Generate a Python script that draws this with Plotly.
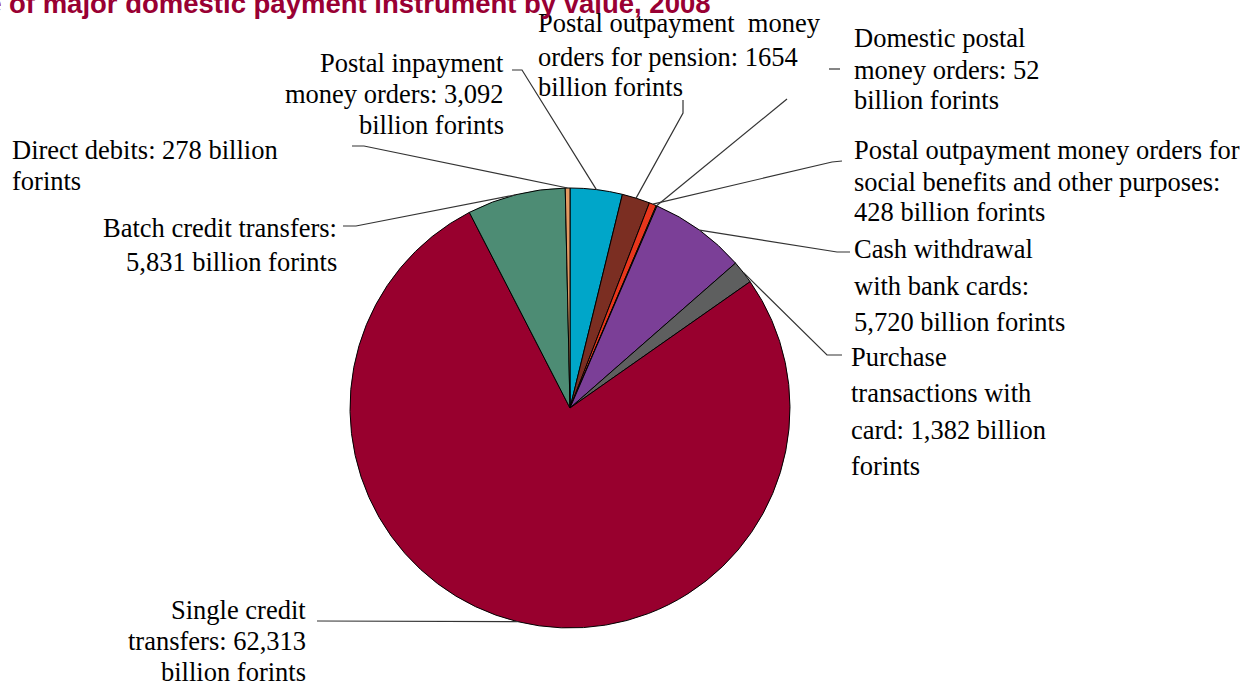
import math
import plotly.graph_objects as go

# ---------------- data ----------------
categories = [
    "Postal inpayment money orders",
    "Postal outpayment money orders for pension",
    "Postal outpayment money orders for social benefits and other purposes",
    "Domestic postal money orders",
    "Cash withdrawal with bank cards",
    "Purchase transactions with card",
    "Single credit transfers",
    "Batch credit transfers",
    "Direct debits",
]
values = [3092, 1654, 428, 52, 5720, 1382, 62313, 5831, 278]  # billion forints
colors = ["#00A6C9", "#7B2E22", "#E8361C", "#D8CC1E", "#7B3F97",
          "#5E5F5F", "#98002E", "#4D8C74", "#E39A62"]

label_lines = [
    ["Postal inpayment", "money orders: 3,092", "billion forints"],
    ["Postal outpayment\u00a0 money", "orders for pension: 1654", "billion forints"],
    ["Postal outpayment money orders for", "social benefits and other purposes:", "428 billion forints"],
    ["Domestic postal", "money orders: 52", "billion forints"],
    ["Cash withdrawal", "with bank cards:", "5,720 billion forints"],
    ["Purchase", "transactions with", "card: 1,382 billion", "forints"],
    ["Single credit", "transfers: 62,313", "billion forints"],
    ["Batch credit transfers:", "5,831 billion forints"],
    ["Direct debits: 278 billion", "forints"],
]
title_text = "Share of major domestic payment instrument by value, 2008"

# ---------------- layout (pixels) ----------------
W, H = 1243, 684
CX, CY, R = 570, 408, 220

# label placement: (x, anchor, [line centre y ...])
label_pos = [
    (506, "right", [63, 94, 125]),
    (536, "left", [23, 57, 87]),
    (852, "left", [150, 182, 212]),
    (852, "left", [38, 70, 100]),
    (852, "left", [249, 286, 322]),
    (849, "left", [357, 393, 430, 466]),
    (308, "right", [610, 641, 672]),
    (339, "right", [228, 262]),
    (10, "left", [150, 181]),
]
# leader line points on the label side (pixels), slice end is computed
leader_pts = [
    [(512, 70), (522, 70)],
    [(683, 100), (683, 113)],
    [(842, 161), (832, 162)],
    [(787, 99)],
    [(850, 252), (837, 252)],
    [(842, 355), (827, 355)],
    [(317, 621)],
    [(343, 226), (356, 226)],
    [(352, 146), (364, 146)],
]


def px(x):
    return x / W


def py(y):
    return 1 - y / H


fig = go.Figure(go.Pie(
    labels=categories, values=values, sort=False, direction="clockwise",
    rotation=0, textinfo="none", hoverinfo="label+value",
    marker=dict(colors=colors, line=dict(color="#000000", width=1)),
    domain=dict(x=[px(CX - R), px(CX + R)], y=[py(CY + R), py(CY - R)]),
    showlegend=False,
))

total = sum(values)
cum = 0
shapes = []
annotations = []
for i, v in enumerate(values):
    theta = 2 * math.pi * (cum + v / 2) / total
    cum += v
    ex = CX + R * math.sin(theta)
    ey = CY - R * math.cos(theta)
    pts = leader_pts[i] + [(ex, ey)]
    path = "M " + " L ".join(f"{px(x):.5f},{py(y):.5f}" for x, y in pts)
    shapes.append(dict(type="path", path=path, xref="paper", yref="paper",
                       line=dict(color="#333333", width=1.2)))
    lx, anchor, ys = label_pos[i]
    for line, ly in zip(label_lines[i], ys):
        annotations.append(dict(
            text=line, x=px(lx), y=py(ly), xref="paper", yref="paper",
            xanchor=anchor, yanchor="middle", showarrow=False,
            font=dict(family="Liberation Serif", size=26.5, color="#000000")))

# small stray dash beside the domestic postal label
shapes.append(dict(type="line", xref="paper", yref="paper",
                   x0=px(829), x1=px(840), y0=py(69), y1=py(69),
                   line=dict(color="#333333", width=1.2)))

annotations.append(dict(
    text="<b>" + title_text + "</b>", x=px(713), y=py(3), xref="paper", yref="paper",
    xanchor="right", yanchor="middle", showarrow=False,
    font=dict(family="Liberation Sans", size=27.5, color="#990033")))

fig.update_layout(
    width=W, height=H, margin=dict(l=0, r=0, t=0, b=0),
    paper_bgcolor="white", plot_bgcolor="white",
    shapes=shapes, annotations=annotations,
)

fig.write_html("out.html", config={"displayModeBar": False},
               post_script="document.body.style.margin='0';")
